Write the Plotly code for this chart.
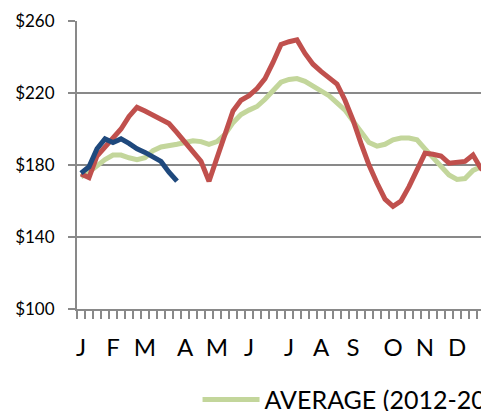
import plotly.graph_objects as go

weeks = list(range(1, 53))

avg_values = [173.5, 176, 179.5, 183, 185.5, 185.5, 184, 183, 184, 188,
              190, 190.5, 191.5, 192.5, 193.5, 193, 191.5, 193, 197, 203.5,
              208, 210.5, 212.5, 216.5, 221.5, 226, 227.5, 228, 226.5, 224,
              221, 218.5, 214.5, 210.5, 204.5, 198.5, 192.5, 190.5, 191.5, 194,
              195, 195, 194, 189, 184, 179, 174.5, 172, 172.5, 177,
              179, 175]

prev_year = [175, 173, 185, 190, 194, 200, 207, 212, 210, 207.5,
             205.5, 203, 198, 193, 187, 182, 171, 184, 197, 210,
             216, 218.5, 222.5, 228, 237, 247, 248.5, 249.5, 242, 236,
             232, 228.5, 225, 216, 205, 192, 180, 170, 161, 157,
             160, 168, 178, 186.5, 186, 185, 181, 181.5, 182, 185.5,
             178, 175]

cur_weeks = list(range(1, 14))
cur_year = [175.5, 179, 189, 194.5, 192.5, 194.5, 192, 189, 187, 184.5,
            182, 176, 171]

month_weeks = [1, 5, 9, 14, 18, 22, 27, 31, 35, 40, 44, 48]
month_labels = ["J", "F", "M", "A", "M", "J", "J", "A", "S", "O", "N", "D"]

y_ticks = [100, 140, 180, 220, 260]
y_labels = ["$100", "$140", "$180", "$220", "$260"]

GRID = "#898989"
FONT = "Lato"

fig = go.Figure()
fig.add_trace(go.Scatter(x=weeks, y=avg_values, mode="lines",
                         name="AVERAGE (2012-2017)",
                         line=dict(color="#C3D69B", width=5)))
fig.add_trace(go.Scatter(x=weeks, y=prev_year, mode="lines", name="2017",
                         showlegend=False,
                         line=dict(color="#C0504D", width=5)))
fig.add_trace(go.Scatter(x=cur_weeks, y=cur_year, mode="lines", name="2018",
                         showlegend=False,
                         line=dict(color="#1F497D", width=5)))

fig.update_layout(
    width=489, height=411,
    margin=dict(l=69, r=0, t=13, b=110, autoexpand=False),
    paper_bgcolor="white", plot_bgcolor="white",
    font=dict(family=FONT, color="black"),
    showlegend=True,
    legend=dict(orientation="h", x=0.287, xanchor="left", y=-0.315,
                yanchor="middle", font=dict(size=25, family=FONT),
                itemwidth=57, bgcolor="rgba(0,0,0,0)"),
)
fig.update_xaxes(
    range=[0.5, 53.0], tickmode="array", tickvals=month_weeks,
    ticktext=month_labels, ticks="", showgrid=False, zeroline=False,
    showline=True, linecolor=GRID, linewidth=2,
    tickfont=dict(size=24, family=FONT), ticklabelstandoff=16,
    minor=dict(tickmode="linear", tick0=0.5, dtick=1, ticks="outside",
               ticklen=8, tickwidth=1.5, tickcolor=GRID, showgrid=False),
)
fig.update_yaxes(
    range=[100, 260], tickmode="array", tickvals=y_ticks, ticktext=y_labels,
    ticks="outside", ticklen=7, tickwidth=2, tickcolor=GRID,
    showgrid=True, gridcolor=GRID, gridwidth=2, zeroline=False,
    showline=True, linecolor=GRID, linewidth=2,
    tickfont=dict(size=17, family=FONT), ticklabelstandoff=10,
)

fig.write_html("out.html")
